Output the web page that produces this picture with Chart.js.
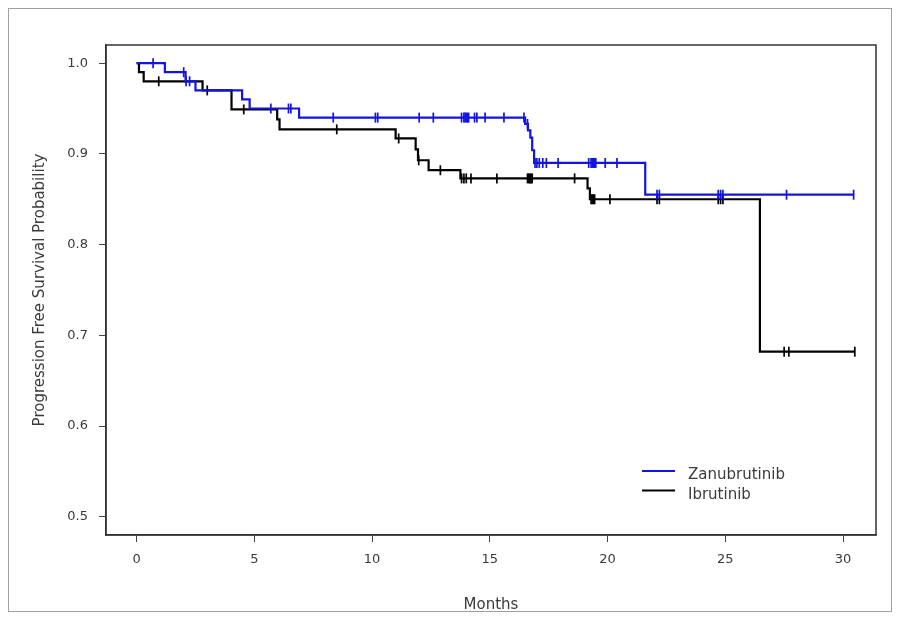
<!DOCTYPE html>
<html>
<head>
<meta charset="utf-8">
<script src="https://cdn.jsdelivr.net/npm/chart.js@4.4.1/dist/chart.umd.min.js"></script>
<style>
  body { margin: 0; background: #fff; }
  #wrap { width: 900px; height: 617px; }
</style>
</head>
<body>
<div id="wrap"><canvas id="myChart" width="900" height="617"></canvas></div>
<script>

// Zanubrutinib: event times (months) and survival after each step
var zTimes = [0, 1.2, 2.08, 2.5, 4.48, 4.8, 6.9, 16.5, 16.62, 16.72, 16.8, 16.88, 21.6, 30.45];
var zSurv  = [1.0, 0.990, 0.980, 0.970, 0.960, 0.950, 0.940, 0.933, 0.926, 0.918, 0.904, 0.890, 0.855, 0.855];
var zCensor = [0.7, 2.0, 2.1, 2.25, 5.7, 6.45, 6.55, 8.35, 10.14, 10.24, 12.0, 12.6,
               13.8, 13.9, 13.95, 14.0, 14.05, 14.1, 14.35, 14.45, 14.8, 15.6, 16.45, 16.6,
               16.92, 17.0, 17.1, 17.25, 17.4, 17.9, 19.2, 19.3, 19.35, 19.4, 19.45, 19.5,
               19.9, 20.4, 22.1, 22.2, 24.7, 24.8, 24.9, 27.6, 30.45];

// Ibrutinib
var iTimes = [0, 0.1, 0.3, 2.8, 4.03, 5.97, 6.07, 11.0, 11.85, 11.95, 12.4, 13.75, 19.15, 19.25, 26.47, 30.5];
var iSurv  = [1.0, 0.990, 0.980, 0.970, 0.949, 0.938, 0.927, 0.917, 0.905, 0.893, 0.882, 0.873, 0.862, 0.850, 0.682, 0.682];
var iCensor = [0.94, 3.0, 4.55, 8.5, 11.13, 11.98, 12.9, 13.8, 13.9, 14.0, 14.2, 15.3,
               16.6, 16.65, 16.7, 16.75, 16.8, 18.6, 19.3, 19.35, 19.4, 19.45, 20.1,
               22.1, 22.2, 24.7, 24.8, 24.9, 27.5, 27.7, 30.5];

var xTicks = [0, 5, 10, 15, 20, 25, 30];
var yTicks = [0.5, 0.6, 0.7, 0.8, 0.9, 1.0];

var seriesNames = ['Zanubrutinib', 'Ibrutinib'];
var seriesColors = ['#1414e0', '#000000'];

var fontFam = '"DejaVu Sans", Verdana, sans-serif';

function stepPoints(times, surv){
	return times.map(function(t, i){ return {x: t, y: surv[i]}; });
}

// survival value at time t (last step at or before t)
function survAt(times, surv, t){
	var v = surv[0];
	for(var i = 0; i < times.length; i++){
		if(times[i] <= t) v = surv[i];
	}
	return v;
}

function censorPoints(times, surv, cens){
	return cens.map(function(t){ return {x: t, y: survAt(times, surv, t)}; });
}

var framePlugin = {
	id: 'frame',
	beforeDraw(chart){
		var ctx = chart.ctx;
		ctx.save();
		ctx.fillStyle = '#fff';
		ctx.fillRect(0, 0, chart.width, chart.height);
		ctx.strokeStyle = '#a0a0a0';
		ctx.lineWidth = 1;
		ctx.strokeRect(8.5, 8.5, 883, 603);
		ctx.restore();
	},
	afterDraw(chart){
		var ctx = chart.ctx;
		var a = chart.chartArea;
		ctx.save();
		ctx.strokeStyle = '#333';
		ctx.lineWidth = 1.5;
		ctx.strokeRect(a.left, a.top, a.right - a.left, a.bottom - a.top);

		// legend inside the plot, bottom right
		ctx.font = '15px ' + fontFam;
		ctx.textBaseline = 'alphabetic';
		ctx.textAlign = 'left';
		var lx = a.left + 536, ly = a.top + 426;
		for(var i = 0; i < seriesNames.length; i++){
			var y = ly + i * 19.5;
			ctx.strokeStyle = seriesColors[i];
			ctx.lineWidth = 2.2;
			ctx.beginPath();
			ctx.moveTo(lx, y);
			ctx.lineTo(lx + 33, y);
			ctx.stroke();
			ctx.fillStyle = '#3a3a3a';
			ctx.fillText(seriesNames[i], lx + 46, y + 8);
		}
		ctx.restore();
	}
};

const ctx = document.getElementById('myChart').getContext('2d');
const chart = new Chart(ctx, {
	type: 'scatter',
	data: {
		datasets: [{
			label: seriesNames[0],
			data: stepPoints(zTimes, zSurv),
			showLine: true,
			stepped: 'before',
			borderColor: seriesColors[0],
			borderWidth: 2.2,
			pointRadius: 0
		},{
			label: seriesNames[0] + ' censored',
			data: censorPoints(zTimes, zSurv, zCensor),
			showLine: false,
			pointStyle: 'line',
			rotation: 90,
			pointRadius: 5,
			borderColor: seriesColors[0],
			borderWidth: 1.7
		},{
			label: seriesNames[1],
			data: stepPoints(iTimes, iSurv),
			showLine: true,
			stepped: 'before',
			borderColor: seriesColors[1],
			borderWidth: 2.2,
			pointRadius: 0
		},{
			label: seriesNames[1] + ' censored',
			data: censorPoints(iTimes, iSurv, iCensor),
			showLine: false,
			pointStyle: 'line',
			rotation: 90,
			pointRadius: 5,
			borderColor: seriesColors[1],
			borderWidth: 1.7
		}]
	},
	options: {
		responsive: false,
		animation: false,
		layout: { padding: { top: 45, right: 24, left: 0, bottom: 0 } },
		plugins: {
			legend: { display: false },
			tooltip: { enabled: false }
		},
		scales: {
			x: {
				type: 'linear',
				min: -1.3,
				max: 31.4,
				afterBuildTicks(scale){ scale.ticks = xTicks.map(function(v){ return {value: v}; }); },
				afterFit(scale){ scale.height = 82; },
				ticks: {
					color: '#3a3a3a',
					padding: 10,
					font: { family: fontFam, size: 13 },
					maxRotation: 0
				},
				grid: { display: true, drawOnChartArea: false, drawTicks: true, tickLength: 7, color: '#444' },
				border: { display: true, color: '#333', width: 1.5 },
				title: {
					display: true,
					text: 'Months',
					color: '#3a3a3a',
					font: { family: fontFam, size: 15 },
					padding: { top: 0, bottom: 3 }
				}
			},
			y: {
				type: 'linear',
				min: 0.48,
				max: 1.02,
				afterBuildTicks(scale){ scale.ticks = yTicks.map(function(v){ return {value: v}; }); },
				afterFit(scale){ scale.width = 106; },
				ticks: {
					color: '#3a3a3a',
					padding: 11,
					font: { family: fontFam, size: 13 },
					callback: function(v){ return Number(v).toFixed(1); }
				},
				grid: { display: true, drawOnChartArea: false, drawTicks: true, tickLength: 7, color: '#444' },
				border: { display: true, color: '#333', width: 1.5 },
				title: {
					display: true,
					text: 'Progression Free Survival Probability',
					color: '#3a3a3a',
					font: { family: fontFam, size: 15 },
					padding: { top: 31, bottom: 0 }
				}
			}
		}
	},
	plugins: [framePlugin]
});

</script>
</body>
</html>
